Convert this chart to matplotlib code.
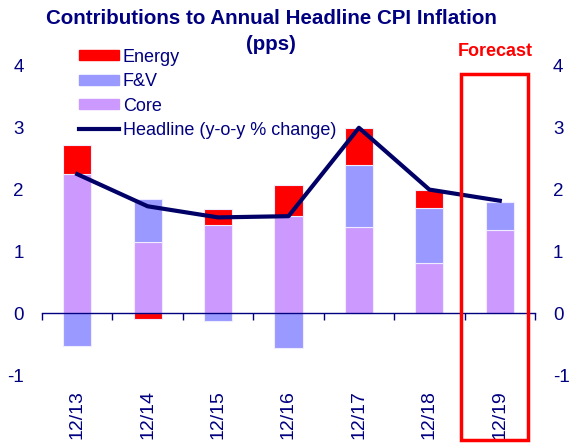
import matplotlib
matplotlib.use("Agg")
import matplotlib.pyplot as plt
import matplotlib.transforms as mtransforms
from matplotlib.patches import Rectangle, Patch
from matplotlib.lines import Line2D
import numpy as np

plt.rcParams['font.family'] = ['Liberation Sans', 'DejaVu Sans']

categories = ['12/13', '12/14', '12/15', '12/16', '12/17', '12/18', '12/19']
core = [2.25, 1.15, 1.42, 1.58, 1.40, 0.81, 1.35]
fv = [-0.53, 0.70, -0.12, -0.57, 1.00, 0.89, 0.45]
energy = [0.47, -0.10, 0.26, 0.50, 0.60, 0.30, 0.0]
headline = [2.25, 1.73, 1.55, 1.57, 3.00, 2.00, 1.82]
yticks = [-1, 0, 1, 2, 3, 4]

NAVY = '#000080'
C_EN = '#FF0000'
C_FV = '#9999FF'
C_CORE = '#CC99FF'

fig = plt.figure(figsize=(5.69, 4.44), dpi=100)
ax = fig.add_axes([42/569, 1-375/444, (535-42)/569, (375-66)/444])

x = np.arange(len(categories))
w = 0.4
pos_base = np.zeros(len(x))
neg_base = np.zeros(len(x))
for vals, col in [(core, C_CORE), (fv, C_FV), (energy, C_EN)]:
    v = np.array(vals, dtype=float)
    bottoms = np.where(v >= 0, pos_base, neg_base)
    ax.bar(x, v, w, bottom=bottoms, color=col, edgecolor='#f0ecff', linewidth=0.8, zorder=2)
    pos_base = pos_base + np.where(v >= 0, v, 0)
    neg_base = neg_base + np.where(v < 0, v, 0)

ax.plot(x, headline, color='#000066', lw=3, zorder=4)

ax.set_xlim(-0.5, len(x) - 0.5)
ax.set_ylim(-1, 4)
for s in ['top', 'left', 'right']:
    ax.spines[s].set_visible(False)
ax.spines['bottom'].set_position(('data', 0))
ax.spines['bottom'].set_color(NAVY)
ax.spines['bottom'].set_linewidth(1)
ax.set_xticks(np.arange(-0.5, len(x), 1.0))
ax.set_xticklabels([])
ax.tick_params(axis='x', direction='out', length=5, color=NAVY, width=1)
ax.set_yticks(yticks)
ax.set_yticklabels([str(t) for t in yticks])
ax.tick_params(axis='y', length=0, labelsize=13.5, labelcolor=NAVY, pad=13)

ax2 = ax.twinx()
ax2.set_ylim(-1, 4)
for s in ax2.spines.values():
    s.set_visible(False)
ax2.set_yticks(yticks)
ax2.set_yticklabels([str(t) for t in yticks])
ax2.tick_params(axis='y', length=0, labelsize=13.5, labelcolor=NAVY, pad=13)

trans = mtransforms.blended_transform_factory(ax.transData, ax.transAxes)
for xi, lab in zip(x, categories):
    ax.text(xi, -0.05, lab, rotation=90, ha='center', va='top', fontsize=14,
            color=NAVY, transform=trans)

# forecast box
rect = Rectangle((5.45, -2.05), 0.95, 5.92, fill=False, edgecolor='#FF0000',
                 lw=2.5, clip_on=False, zorder=5)
ax.add_patch(rect)
ax.text(5.93, 4.23, 'Forecast', color='#FF0000', fontsize=13, fontweight='bold',
        ha='center', va='center', clip_on=False)

fig.text(271/569, 1-18/444, 'Contributions to Annual Headline CPI Inflation',
         ha='center', va='center', fontsize=14.8, fontweight='bold', color=NAVY)
fig.text(271/569, 1-45/444, '(pps)', ha='center', va='center', fontsize=14.8,
         fontweight='bold', color=NAVY)

handles = [Patch(color=C_EN), Patch(color=C_FV), Patch(color=C_CORE),
           Line2D([0], [0], color='#000066', lw=3)]
labels = ['Energy', 'F&V', 'Core', 'Headline (y-o-y % change)']
leg = fig.legend(handles, labels, loc='upper left', bbox_to_anchor=(79/569, 1-48.5/444),
                 frameon=False, fontsize=13, labelcolor=NAVY, handlelength=2.2,
                 handleheight=0.5, handletextpad=0.22, labelspacing=0.42,
                 borderpad=0, borderaxespad=0)

fig.savefig('out.png', dpi=100)
